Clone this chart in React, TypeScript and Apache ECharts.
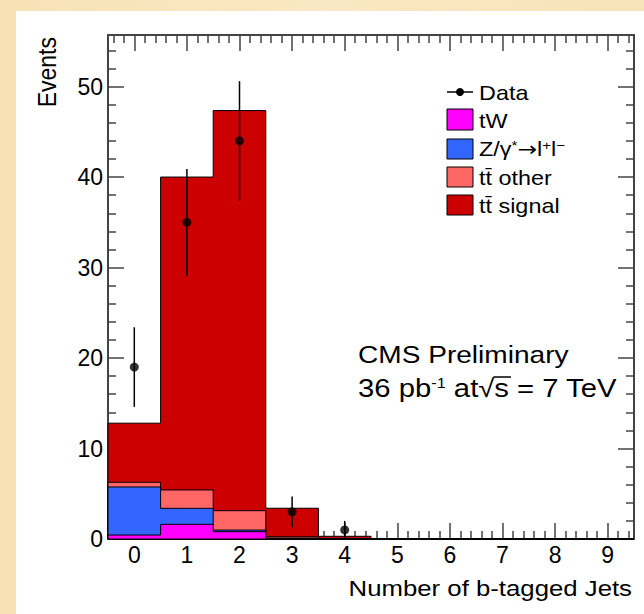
import React, { useEffect, useRef } from 'react';
import * as echarts from 'echarts';

// ---- data ----
const bins = [0, 1, 2, 3, 4, 5, 6, 7, 8, 9];
const tW = [0.44, 1.62, 0.81, 0.05, 0, 0, 0, 0, 0, 0];
const zGamma = [5.31, 1.77, 0.18, 0.05, 0, 0, 0, 0, 0, 0];
const ttOther = [0.52, 2.03, 2.14, 0.15, 0.05, 0, 0, 0, 0, 0];
const ttSignal = [6.53, 34.58, 44.22, 3.15, 0.25, 0, 0, 0, 0, 0];
const dataBins = [0, 1, 2, 3, 4];
const dataVals = [19, 35, 44, 3, 1];
const dataErr = [4.4, 5.9, 6.6, 1.7, 1.0];
const xTickLabels = [0, 1, 2, 3, 4, 5, 6, 7, 8, 9];
const yTickLabels = [0, 10, 20, 30, 40, 50];

const X_MIN = -0.5;
const X_MAX = 9.5;
const Y_MAX = 55.7;

const FONT = '"Liberation Sans", Arial, Helvetica, sans-serif';
const SX = 1.17;
const AX = '#444';

const xMinor: number[] = [];
for (let k = -2; k <= 47; k++) if (k % 5 !== 0) xMinor.push(k / 5);
const yMinor: number[] = [];
for (let v = 2; v <= 54; v += 2) if (v % 10 !== 0) yMinor.push(v);

function addArr(a: number[], b: number[]) {
  return a.map((v, i) => v + b[i]);
}
const cumTW = tW;
const cumZ = addArr(cumTW, zGamma);
const cumOther = addArr(cumZ, ttOther);
const cumSignal = addArr(cumOther, ttSignal);

function stepPoints(vals: number[]) {
  const pts: number[][] = [[bins[0] - 0.5, 0]];
  vals.forEach((v, i) => {
    pts.push([bins[i] - 0.5, v]);
    pts.push([bins[i] + 0.5, v]);
  });
  pts.push([bins[bins.length - 1] + 0.5, 0]);
  return pts;
}

function layerSeries(name: string, cum: number[], color: string) {
  return {
    type: 'custom',
    name,
    xAxisIndex: 0,
    yAxisIndex: 0,
    silent: true,
    data: [[0, 0]],
    renderItem: (_p: any, api: any) => ({
      type: 'polygon',
      shape: { points: stepPoints(cum).map((p) => api.coord(p)) },
      style: { fill: color, stroke: '#000', lineWidth: 1 },
    }),
  };
}

function xAxisDef(position: string, ticks: number[], len: number, labels: boolean, line: boolean) {
  return {
    type: 'value',
    min: X_MIN,
    max: X_MAX,
    position,
    axisLine: { show: line, onZero: false, lineStyle: { color: AX, width: 2 } },
    axisTick: { show: true, inside: true, length: len, customValues: ticks, lineStyle: { color: AX, width: 1.5 } },
    axisLabel: labels
      ? { show: true, customValues: xTickLabels, margin: 4, fontSize: 23, color: '#000', fontFamily: FONT }
      : { show: false },
    splitLine: { show: false },
  };
}
function yAxisDef(position: string, ticks: number[], len: number, labels: boolean, line: boolean) {
  return {
    type: 'value',
    min: 0,
    max: Y_MAX,
    position,
    axisLine: { show: line, onZero: false, lineStyle: { color: AX, width: 2 } },
    axisTick: { show: true, inside: true, length: len, customValues: ticks, lineStyle: { color: AX, width: 1.5 } },
    axisLabel: labels
      ? { show: true, customValues: yTickLabels, margin: 5, fontSize: 23, color: '#000', fontFamily: FONT }
      : { show: false },
    splitLine: { show: false },
  };
}

function txt(x: number, y: number, text: string, size: number, extra: any = {}, sx: number = SX) {
  return {
    type: 'text',
    x,
    y,
    scaleX: sx,
    style: { x: 0, y: 0, text, fontSize: size, fontFamily: FONT, fill: '#000', verticalAlign: 'middle', ...extra },
  };
}

function measure(t: string, size: number) {
  const ctx = document.createElement('canvas').getContext('2d');
  if (!ctx) return t.length * size * 0.55;
  ctx.font = `${size}px ${FONT}`;
  return ctx.measureText(t).width;
}

function buildOption() {
  const LX = 447;
  const LW = 26;
  const L2X = 358;
  const L2Y = 388;
  const L2S = 25;
  const sStart = L2X + SX * (measure('36 pb', L2S) + measure('-1', 14) + measure(' at√', L2S));
  const sEnd = sStart + SX * measure('s', L2S);
  return {
    animation: false,
    grid: { left: 108, top: 35, width: 526, height: 504, containLabel: false },
    xAxis: [
      xAxisDef('bottom', xTickLabels, 16, true, true),
      xAxisDef('bottom', xMinor, 8, false, false),
      xAxisDef('top', xTickLabels, 16, false, true),
      xAxisDef('top', xMinor, 8, false, false),
    ],
    yAxis: [
      yAxisDef('left', yTickLabels, 16, true, true),
      yAxisDef('left', yMinor, 8, false, false),
      yAxisDef('right', yTickLabels, 16, false, true),
      yAxisDef('right', yMinor, 8, false, false),
    ],
    series: [
      layerSeries('tt\u0304 signal', cumSignal, '#cc0000'),
      layerSeries('tt\u0304 other', cumOther, '#ff6666'),
      layerSeries('Z/γ*→l+l−', cumZ, '#3366ff'),
      layerSeries('tW', cumTW, '#ff00ff'),
      {
        type: 'custom',
        name: 'Data error',
        xAxisIndex: 0,
        yAxisIndex: 0,
        silent: true,
        data: dataBins.map((b, i) => [b, dataVals[i] - dataErr[i], dataVals[i] + dataErr[i]]),
        encode: { x: 0, y: [1, 2] },
        renderItem: (_p: any, api: any) => {
          const x = api.value(0);
          const p1 = api.coord([x, api.value(1)]);
          const p2 = api.coord([x, api.value(2)]);
          return {
            type: 'line',
            shape: { x1: p1[0], y1: p1[1], x2: p2[0], y2: p2[1] },
            style: { stroke: '#000', lineWidth: 1.5 },
          };
        },
        z: 4,
      },
      {
        type: 'scatter',
        name: 'Data',
        xAxisIndex: 0,
        yAxisIndex: 0,
        data: dataBins.map((b, i) => [b, dataVals[i]]),
        symbol: 'circle',
        symbolSize: 9,
        itemStyle: { color: '#000' },
        z: 5,
      },
    ],
    graphic: [
      // axis titles
      {
        type: 'text',
        x: 47,
        y: 37,
        rotation: Math.PI / 2,
        scaleY: 1.12,
        style: { x: 0, y: 0, text: 'Events', fontSize: 23, fontFamily: FONT, fill: '#000', align: 'right', verticalAlign: 'middle' },
      },
      {
        type: 'text',
        x: 632,
        y: 588,
        scaleX: 1.12,
        style: { x: 0, y: 0, text: 'Number of b-tagged Jets', fontSize: 23, fontFamily: FONT, fill: '#000', align: 'right', verticalAlign: 'middle' },
      },
      // legend
      { type: 'line', shape: { x1: LX, y1: 92, x2: LX + LW, y2: 92 }, style: { stroke: '#000', lineWidth: 1.5 } },
      { type: 'circle', shape: { cx: LX + LW / 2, cy: 92, r: 4 }, style: { fill: '#000' } },
      { type: 'rect', shape: { x: LX, y: 109, width: LW, height: 21 }, style: { fill: '#ff00ff', stroke: '#000', lineWidth: 1 } },
      { type: 'rect', shape: { x: LX, y: 139, width: LW, height: 20 }, style: { fill: '#3366ff', stroke: '#000', lineWidth: 1 } },
      { type: 'rect', shape: { x: LX, y: 167, width: LW, height: 20 }, style: { fill: '#ff6666', stroke: '#000', lineWidth: 1 } },
      { type: 'rect', shape: { x: LX, y: 195, width: LW, height: 20 }, style: { fill: '#cc0000', stroke: '#000', lineWidth: 1 } },
      txt(479, 93, 'Data', 20),
      txt(479, 121, 'tW', 20),
      txt(479, 149, 'Z/γ{sup|*}{ar|→}l{sup|+}l{sup|−}', 20, {
        rich: {
          sup: { fontSize: 13, fontFamily: FONT, fill: '#000', verticalAlign: 'top' },
          ar: { fontSize: 20, fontFamily: '"DejaVu Sans", sans-serif', fill: '#000' },
        },
      }),
      txt(479, 178, 'tt\u0304 other', 20),
      txt(479, 206, 'tt\u0304 signal', 20),
      // CMS label
      txt(358, 355, 'CMS Preliminary', 24),
      txt(L2X, L2Y, '36 pb{sup|-1} at√s = 7 TeV', L2S, {
        rich: { sup: { fontSize: 14, fontFamily: FONT, fill: '#000', verticalAlign: 'top' } },
      }),
      {
        type: 'line',
        shape: { x1: sStart - 1, y1: L2Y - 11, x2: sEnd + 2, y2: L2Y - 11 },
        style: { stroke: '#000', lineWidth: 1.5 },
      },
    ],
  };
}

export default function App() {
  const ref = useRef<HTMLDivElement>(null);
  useEffect(() => {
    if (!ref.current) return;
    const chart = echarts.init(ref.current, null, { renderer: 'svg' });
    chart.setOption(buildOption() as any);
    return () => chart.dispose();
  }, []);
  return (
    <div
      style={{
        position: 'fixed',
        left: 0,
        top: 0,
        width: 644,
        height: 614,
        overflow: 'hidden',
        background: 'linear-gradient(90deg, #f7e2b6 0%, #fae8c4 50%, #f7e3b9 100%)',
      }}
    >
      <div style={{ position: 'absolute', left: 16, top: 11, right: 0, bottom: 0, background: '#ffffff' }} />
      <div ref={ref} style={{ position: 'absolute', left: 0, top: 0, width: 644, height: 614 }} />
    </div>
  );
}
